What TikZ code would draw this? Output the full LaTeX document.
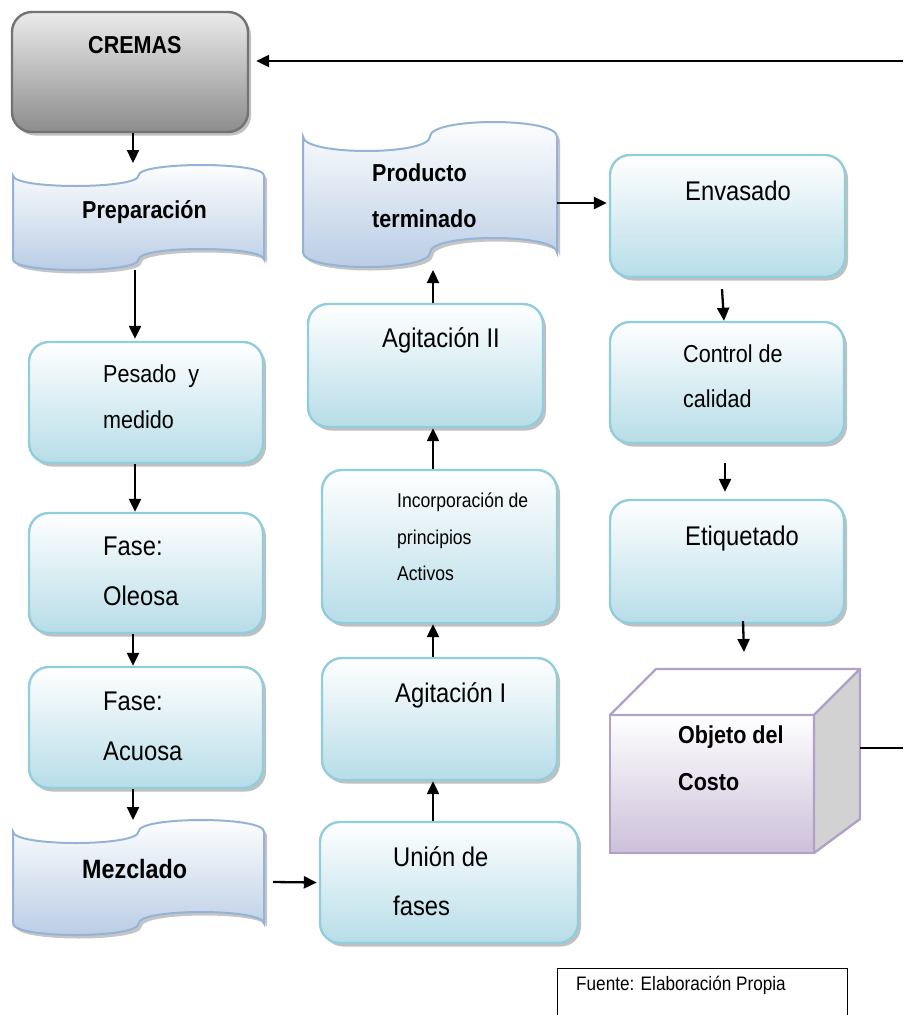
\documentclass[tikz,border=0pt]{standalone}
\usepackage{fontspec}
\setmainfont[FakeStretch=0.88]{Liberation Sans}
\usetikzlibrary{arrows.meta,shadows,calc}

\definecolor{aqline}{HTML}{92CDDC}
\definecolor{aqfill}{HTML}{B7DDE8}
\definecolor{tpline}{HTML}{95B3D7}
\definecolor{tpfill}{HTML}{B8CCE4}
\definecolor{lavline}{HTML}{B2A1C7}
\definecolor{lavfill}{HTML}{CCC0DA}
\definecolor{sidegray}{HTML}{D2D2D2}

\newcommand\fsz[1]{\fontsize{#1}{#1}\selectfont}

\tikzset{
  rbox/.style={draw=aqline, line width=2.4pt, rounded corners=20pt,
    top color=white, bottom color=aqfill, inner sep=0pt,
    drop shadow={shadow xshift=3pt, shadow yshift=-3.5pt, fill=black!45, opacity=.55}},
  greybox/.style={draw=black!55, line width=2.4pt, rounded corners=20pt,
    top color=black!8, bottom color=black!45, inner sep=0pt,
    drop shadow={shadow xshift=3pt, shadow yshift=-3.5pt, fill=black!45, opacity=.55}},
  tapebody/.style={draw=tpline, line width=2pt, top color=white, bottom color=tpfill,
    preaction={fill=black!45, opacity=.5, transform canvas={xshift=3pt,yshift=-3.5pt}}},
  anchorbox/.style={inner sep=0pt, outer sep=0pt},
  lbl/.style={anchor=base west, inner sep=0pt, font=\fsz{27}},
  blbl/.style={anchor=base west, inner sep=0pt, font=\fsz{24.5}\bfseries},
  arr/.style={line width=2.3pt, -{Triangle[length=13pt,width=12pt]}},
  plainline/.style={line width=2.3pt},
}

% punched-tape flowchart shape: name, left, top, right, bottom
\newcommand\tapeshape[5]{%
  \pgfmathsetmacro\tpa{(#5-#3)/10}%
  \pgfmathsetmacro\tpm{(#2+#4)/2}%
  \pgfmathsetmacro\tpt{#3+\tpa}%
  \pgfmathsetmacro\tpb{#5-\tpa}%
  \pgfmathsetmacro\tpk{\tpa*4/3}%
  \path[tapebody] ({#2},{\tpt}) .. controls ({#2},{\tpt+\tpk}) and ({\tpm},{\tpt+\tpk}) .. ({\tpm},{\tpt})
    .. controls ({\tpm},{\tpt-\tpk}) and ({#4},{\tpt-\tpk}) .. ({#4},{\tpt})
    -- ({#4},{\tpb}) .. controls ({#4},{\tpb-\tpk}) and ({\tpm},{\tpb-\tpk}) .. ({\tpm},{\tpb})
    .. controls ({\tpm},{\tpb+\tpk}) and ({#2},{\tpb+\tpk}) .. ({#2},{\tpb}) -- cycle;
  \node[anchorbox, minimum width={#4-#2}, minimum height={#5-#3}] (#1) at ({\tpm},{(#3+#5)/2}) {};
}

\begin{document}
\begin{tikzpicture}[x=1pt,y=-1pt]
\useasboundingbox (0,0) rectangle (903,1015);
\clip (0,0) rectangle (903,1015);

% left column
\node[greybox, minimum width=236, minimum height=120] (cremas) at (130,72) {};
\node[blbl] (tcremas) at (88,53) {CREMAS};

\tapeshape{prep}{13}{165}{264}{270}
\node[blbl] (tprep) at (82,218) {Preparación};

\node[rbox, minimum width=234, minimum height=121] (pesado) at (146,402.5) {};
\node[lbl, font=\fsz{24.5}] (tpes1) at (103,382) {Pesado\ \ y};
\node[lbl, font=\fsz{24.5}] (tpes2) at (103,428) {medido};

\node[rbox, minimum width=234, minimum height=120] (oleosa) at (146,573) {};
\node[lbl] (tole1) at (103,555) {Fase:};
\node[lbl] (tole2) at (103,605) {Oleosa};

\node[rbox, minimum width=234, minimum height=121] (acuosa) at (146,727.5) {};
\node[lbl] (tacu1) at (103,710) {Fase:};
\node[lbl] (tacu2) at (103,760) {Acuosa};

\tapeshape{mez}{13}{820}{264}{935}
\node[blbl, font=\fsz{26.5}\bfseries] (tmez) at (82,878) {Mezclado};

% middle column
\node[rbox, minimum width=258, minimum height=121] (union) at (449,882.5) {};
\node[lbl] (tuni1) at (393,866) {Unión de};
\node[lbl] (tuni2) at (393,915) {fases};

\node[rbox, minimum width=235, minimum height=122] (agI) at (439.5,719) {};
\node[lbl] (tagI) at (395,702) {Agitación I};

\node[rbox, minimum width=235, minimum height=153] (inc) at (439.5,546.5) {};
\node[lbl, font=\fsz{20}] (tinc1) at (397,507) {Incorporación de};
\node[lbl, font=\fsz{20}] (tinc2) at (397,544) {principios};
\node[lbl, font=\fsz{20}] (tinc3) at (397,580) {Activos};

\node[rbox, minimum width=235, minimum height=123] (agII) at (425.5,365.5) {};
\node[lbl] (tagII) at (382,347) {Agitación II};

\tapeshape{prod}{303}{122}{557}{267}
\node[blbl] (tprod1) at (372,181) {Producto};
\node[blbl] (tprod2) at (372,227) {terminado};

% right column
\node[rbox, minimum width=235, minimum height=122] (env) at (727.5,216) {};
\node[lbl] (tenv) at (685,200) {Envasado};

\node[rbox, minimum width=234, minimum height=121] (ctrl) at (727,382.5) {};
\node[lbl, font=\fsz{24.5}] (tctrl1) at (683,362) {Control de};
\node[lbl, font=\fsz{24.5}] (tctrl2) at (683,407) {calidad};

\node[rbox, minimum width=234, minimum height=123] (etiq) at (727,561.5) {};
\node[lbl] (tetiq) at (685,545) {Etiquetado};

% cube: front face node plus top and side faces
\node[anchorbox, minimum width=204, minimum height=138] (obj) at (712,784) {};
\coordinate (objback) at ($(obj.north east)+(46,-46)$);
\fill[black!45, opacity=.55, shift={(3,3.5)}] (obj.south west) -- (obj.north west) -- ++(46,-46)
  -- (objback) -- ++(0,150) -- (obj.south east) -- cycle;
\draw[lavline, line width=2.4pt, top color=white, bottom color=lavfill]
  (obj.south west) rectangle (obj.north east);
\draw[lavline, line width=2.4pt, fill=white, line join=round]
  (obj.north west) -- ++(46,-46) -- (objback) -- (obj.north east) -- cycle;
\draw[lavline, line width=2.4pt, fill=sidegray, line join=round]
  (obj.north east) -- (objback) -- ++(0,150) -- (obj.south east) -- cycle;
\node[blbl] (tobj1) at (678,743) {Objeto del};
\node[blbl] (tobj2) at (678,790) {Costo};

% source note
\node[draw, line width=1.3pt, minimum width=290, minimum height=80, anchor=north west, inner sep=0pt] (fuente) at (557,968) {};
\node[lbl, font=\fsz{19.5}] (tfuente) at (576,990) {Fuente: Elaboración Propia};

% connectors
\coordinate (loopR) at (903,61);
\coordinate (loopB) at (903,748);
\draw[arr] (loopR) -- ([xshift=7pt,yshift=11pt]cremas.east);
\draw[plainline] (objback |- loopB) -- (loopB);

\draw[arr] ([xshift=3pt]cremas.south) -- ([xshift=-5.5pt,yshift=2pt]prep.north);
\draw[arr] ([xshift=-3.5pt]prep.south) -- ([xshift=-11pt,yshift=2pt]pesado.north);
\draw[arr] ([xshift=-11pt]pesado.south) -- ([xshift=-11pt]oleosa.north);
\draw[arr] ([xshift=-13pt]oleosa.south) -- ([xshift=-13pt]acuosa.north);
\draw[arr] ([xshift=-13pt]acuosa.south) -- ([xshift=-5.5pt]mez.north);
\draw[arr] ([xshift=9pt,yshift=-4.5pt]mez.east) -- ([xshift=-2pt]union.west);

\draw[arr] ([xshift=-16pt]union.north) -- ([xshift=-6.5pt]agI.south);
\draw[arr] ([xshift=-6.5pt]agI.north) -- ([xshift=-6.5pt]inc.south);
\draw[arr] ([xshift=-6.5pt]inc.north) -- ([xshift=7.5pt]agII.south);
\draw[arr] ([xshift=7.5pt]agII.north) -- ([xshift=3pt,yshift=-3pt]prod.south);
\draw[arr] ([yshift=-8.5pt]prod.east) -- ([xshift=-2pt,yshift=13pt]env.west);

\draw[arr] ([xshift=-5.5pt,yshift=-11pt]env.south) -- ([xshift=-3pt]ctrl.north);
\draw[arr] ([xshift=-2pt,yshift=-19pt]ctrl.south) -- ([xshift=-2pt,yshift=7pt]etiq.north);
\draw[arr] ([xshift=16pt,yshift=3pt]etiq.south) -- ([xshift=32pt,yshift=63pt]obj.north);
\end{tikzpicture}
\end{document}
